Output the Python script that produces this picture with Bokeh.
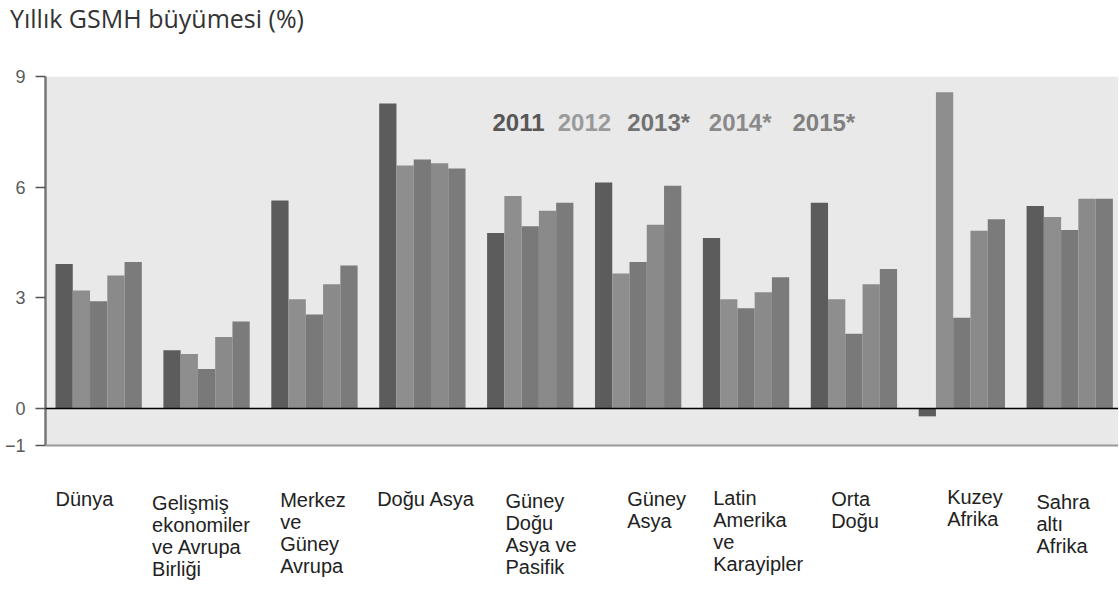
import numpy as np
from bokeh.plotting import figure
from bokeh.layouts import column
from bokeh.models import ColumnDataSource, FixedTicker, Span, Range1d, BoxAnnotation, Div
from bokeh.core.properties import value
from bokeh.embed import file_html
from bokeh.resources import INLINE

# ---------------- data ----------------
title = "Yıllık GSMH büyümesi (%)"
regions = [
    "Dünya",
    "Gelişmiş\nekonomiler\nve Avrupa\nBirliği",
    "Merkez\nve\nGüney\nAvrupa",
    "Doğu Asya",
    "Güney\nDoğu\nAsya ve\nPasifik",
    "Güney\nAsya",
    "Latin\nAmerika\nve\nKarayipler",
    "Orta\nDoğu",
    "Kuzey\nAfrika",
    "Sahra\naltı\nAfrika",
]
years = ["2011", "2012", "2013*", "2014*", "2015*"]

g2011 = [3.92, 1.58, 5.64, 8.27, 4.76, 6.13, 4.62, 5.58, -0.21, 5.49]
g2012 = [3.20, 1.48, 2.96, 6.59, 5.76, 3.66, 2.96, 2.96, 8.57, 5.19]
g2013 = [2.91, 1.07, 2.55, 6.75, 4.94, 3.97, 2.72, 2.03, 2.46, 4.84]
g2014 = [3.61, 1.94, 3.37, 6.65, 5.36, 4.98, 3.15, 3.37, 4.82, 5.69]
g2015 = [3.97, 2.36, 3.88, 6.51, 5.58, 6.04, 3.56, 3.78, 5.13, 5.69]
series = [g2011, g2012, g2013, g2014, g2015]

y_ticks = [-1, 0, 3, 6, 9]
y_min, y_max = -1, 9

# ---------------- layout / style ----------------
bar_colors = ["#5c5c5c", "#8e8e8e", "#797979", "#8a8a8a", "#7b7b7b"]
legend_colors = ["#575757", "#9a9a9a", "#727272", "#8a8a8a", "#808080"]
legend_x = [4.050, 4.655, 5.300, 6.055, 6.830]
legend_y = 7.75
label_shift = [0.0, -0.105, 0.082, -0.019, 0.170, 0.298, 0.096, 0.189, 0.264, 0.092]
label_dy_px = [0, 4, 1, 0, 2, 0, -1, 0, -2, 3]
label_top = -2.16
px_per_unit = 36.9
bar_w = 0.16

p = figure(width=1118, height=552, output_backend="svg", toolbar_location=None,
           x_range=Range1d(-0.0927, 9.852), y_range=Range1d(-4.93, 9),
           min_border_left=45, min_border_right=0, min_border_top=38, min_border_bottom=0)

p.background_fill_color = "white"
p.border_fill_color = "white"
p.outline_line_color = None
p.grid.grid_line_color = None
p.xaxis.visible = False

p.add_layout(BoxAnnotation(bottom=y_min, top=y_max, fill_color="#e9e9e9", fill_alpha=1,
                           line_color=None, level="underlay"))

idx = np.arange(len(regions))
for j, (vals, col) in enumerate(zip(series, bar_colors)):
    src = ColumnDataSource(dict(x=idx + (j + 0.5) * bar_w, top=vals))
    p.vbar(x="x", top="top", bottom=0, width=bar_w, source=src,
           fill_color=col, line_color=None)

p.add_layout(Span(location=0, dimension="width", line_color="black", line_width=1.5))
p.add_layout(Span(location=y_min, dimension="width", line_color="#999999", line_width=2))

lsrc = ColumnDataSource(dict(x=legend_x, y=[legend_y] * len(years), t=years, c=legend_colors))
p.text(x="x", y="y", text="t", text_color="c", source=lsrc,
       text_font=value("Liberation Sans"), text_font_style="bold", text_font_size="24px",
       text_baseline="alphabetic", text_align="left")

# category names below the shaded area
csrc = ColumnDataSource(dict(
    x=idx + np.array(label_shift),
    y=label_top - np.array(label_dy_px) / px_per_unit,
    t=regions))
p.text(x="x", y="y", text="t", source=csrc, text_color="#222222",
       text_font=value("Liberation Sans"), text_font_size="20px",
       text_align="left", text_baseline="top", text_line_height=1.0)

# y axis
ya = p.yaxis[0]
ya.ticker = FixedTicker(ticks=y_ticks)
ya.bounds = (y_min, y_max)
ya.minor_tick_line_color = None
ya.major_tick_in = 0
ya.major_tick_out = 10
ya.major_tick_line_color = "#555555"
ya.major_tick_line_width = 1.5
ya.axis_line_color = "#777777"
ya.axis_line_width = 2.5
ya.major_label_text_font = "Liberation Sans"
ya.major_label_text_font_size = "18px"
ya.major_label_text_color = "#5a5a5a"
ya.major_label_standoff = 10

head = Div(text=title, width=1100, height=38, margin=(0, 0, 0, 10),
           styles={"font-family": "'Open Sans'", "font-size": "25px", "color": "#333333",
                   "line-height": "36px", "white-space": "nowrap"})

layout = column(head, p, spacing=0)
open("out.html", "w").write(file_html(layout, INLINE))
